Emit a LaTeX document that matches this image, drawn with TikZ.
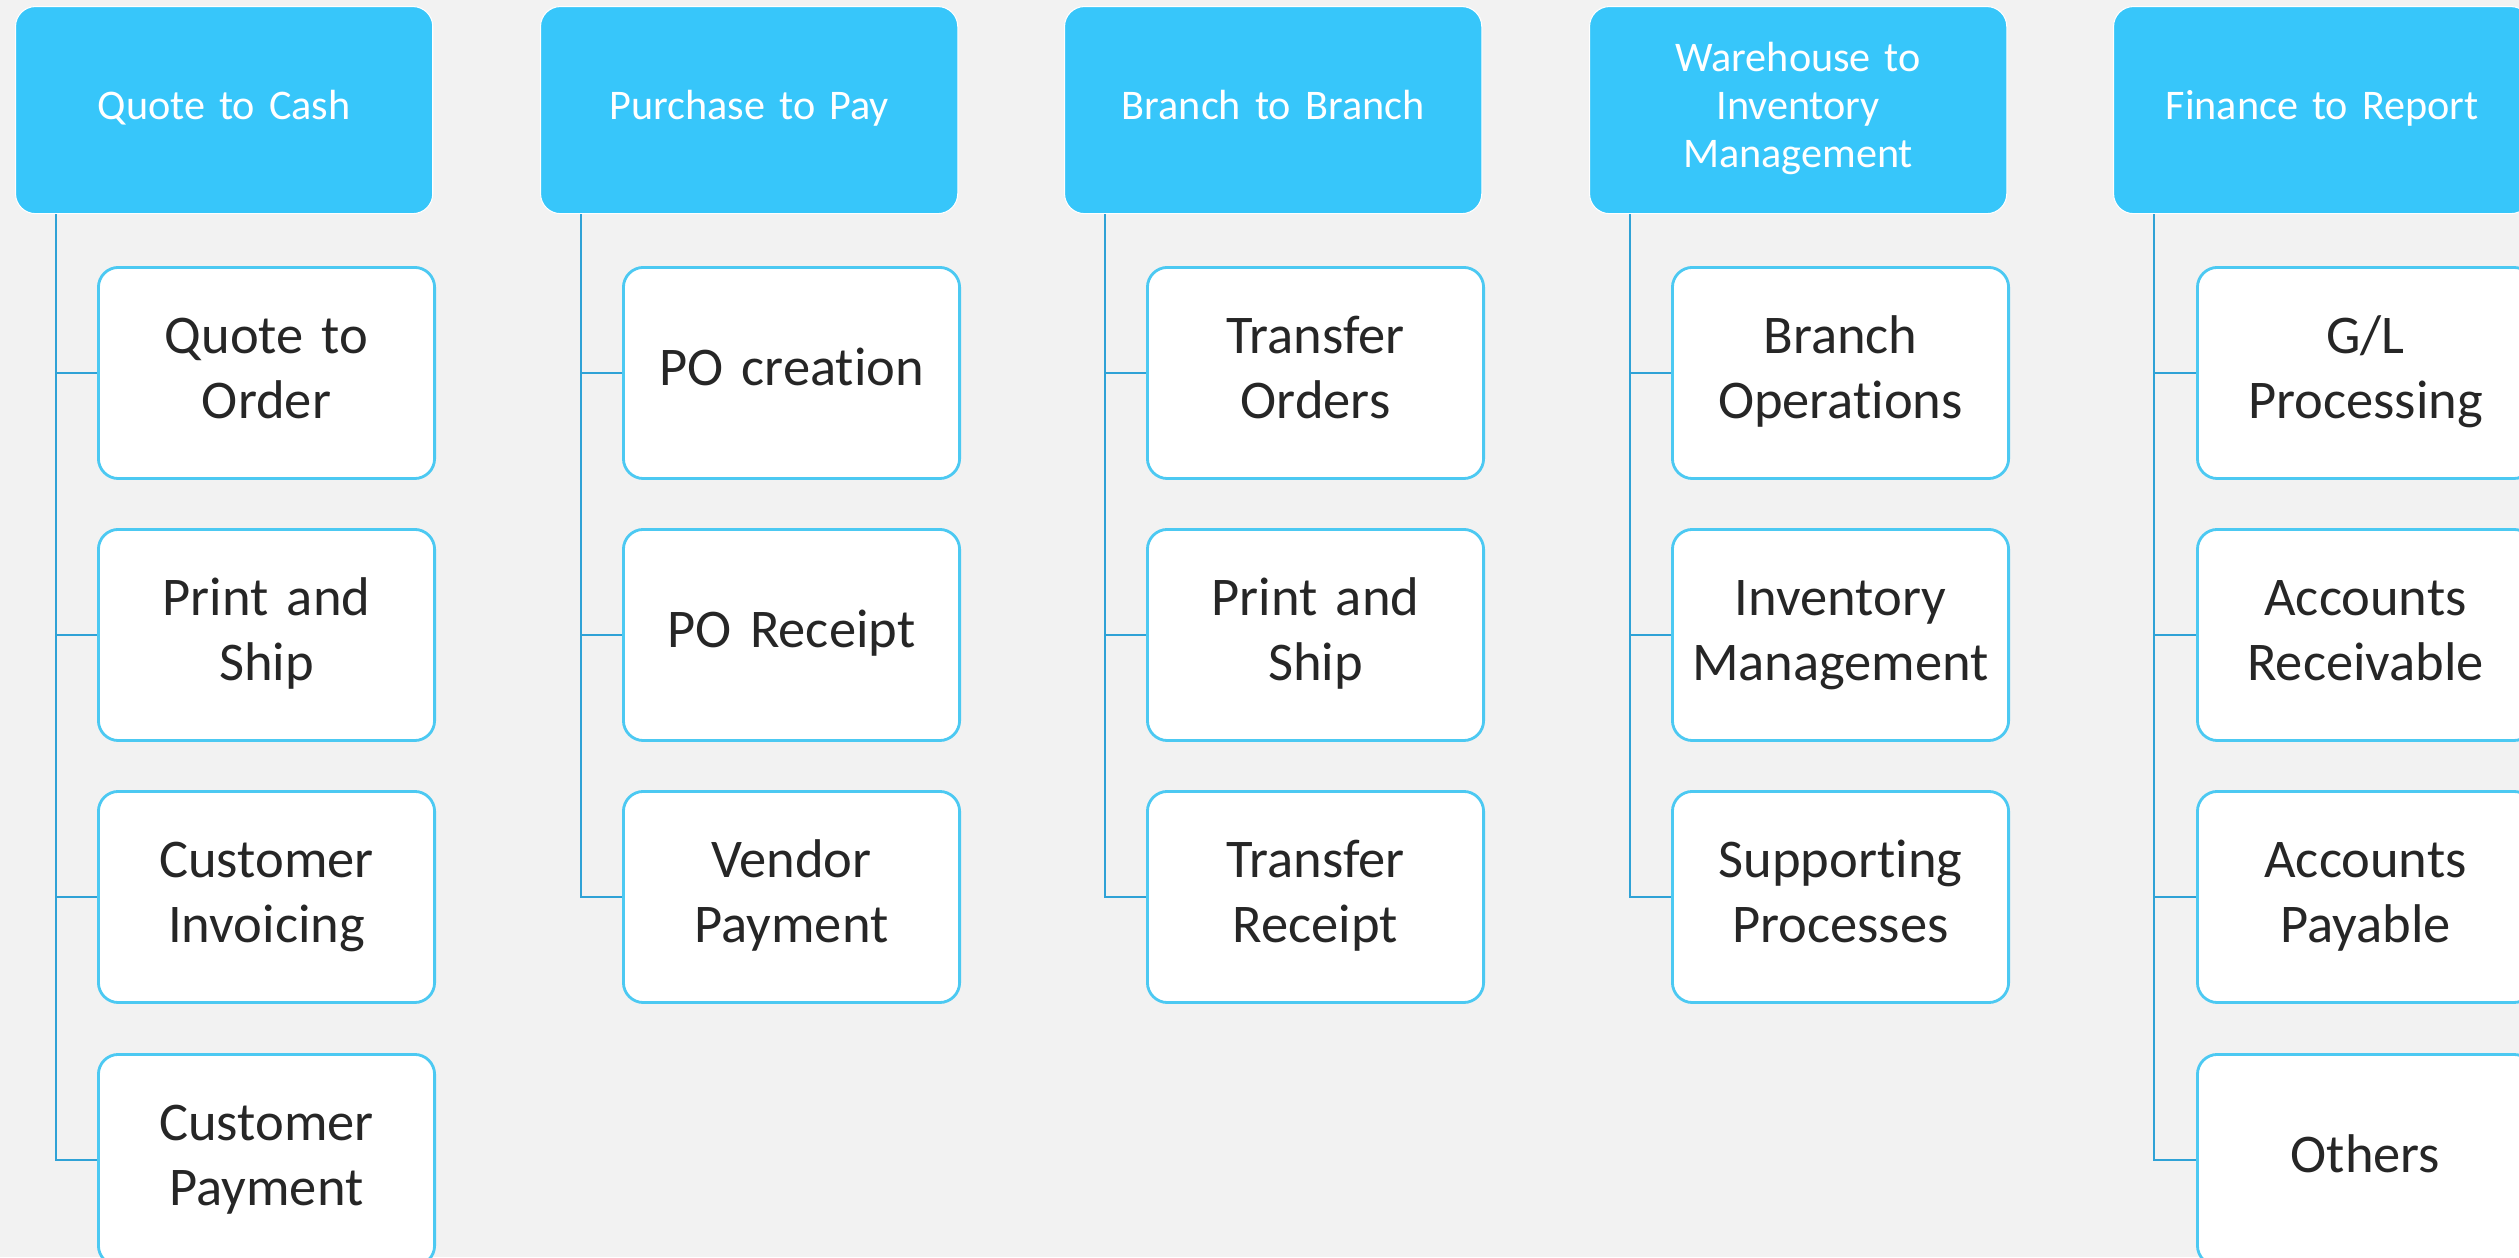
\documentclass[tikz,border=0pt]{standalone}
\usepackage{fontspec}
\setmainfont{Carlito}[Ligatures=NoCommon]
\definecolor{bg}{HTML}{F2F2F2}
\definecolor{hdrfill}{HTML}{37C6FA}
\definecolor{boxline}{HTML}{4CC9F2}
\definecolor{connline}{HTML}{2FA2D6}
\definecolor{txt}{HTML}{262626}
\tikzset{
  hdr/.style={draw=white, line width=0.3pt, fill=hdrfill, rounded corners=0.2cm,
    minimum width=4.17cm, minimum height=2.07cm, text width=3.9cm, align=center,
    anchor=north west, inner sep=0pt, text=white,
    font=\fontsize{12}{13.7}\selectfont,
    execute at begin node=\strut, execute at end node=\strut},
  child/.style={draw=boxline, line width=0.8pt, fill=white, rounded corners=0.2cm,
    minimum width=3.36cm, minimum height=2.11cm, text width=3.2cm, align=center,
    anchor=north west, inner sep=0pt, text=txt,
    font=\fontsize{15.5}{18.3}\selectfont,
    execute at begin node=\strut, execute at end node=\strut},
  conn/.style={draw=connline, line width=0.55pt}
}
\begin{document}
\begin{tikzpicture}[x=0.01cm,y=-0.01cm]
\useasboundingbox (0,0) rectangle (2519,1257);
\clip (0,0) rectangle (2519,1257);
\fill[bg] (0,0) rectangle (2519,1257);
% column 1
\node[hdr] (h1) at (15,6) {Quote to Cash};
\node[child] (c11) at (97,266) {Quote to\\Order};
\node[child] (c12) at (97,528) {Print and\\Ship};
\node[child] (c13) at (97,790) {Customer\\Invoicing};
\node[child] (c14) at (97,1053) {Customer\\Payment};
% column 2
\node[hdr] (h2) at (540,6) {Purchase to Pay};
\node[child] (c21) at (622,266) {PO creation};
\node[child] (c22) at (622,528) {PO Receipt};
\node[child] (c23) at (622,790) {Vendor\\Payment};
% column 3
\node[hdr] (h3) at (1064,6) {Branch to Branch};
\node[child] (c31) at (1146,266) {Transfer\\Orders};
\node[child] (c32) at (1146,528) {Print and\\Ship};
\node[child] (c33) at (1146,790) {Transfer\\Receipt};
% column 4
\node[hdr] (h4) at (1589,6) {Warehouse to\\Inventory\\Management};
\node[child] (c41) at (1671,266) {Branch\\Operations};
\node[child] (c42) at (1671,528) {Inventory\\Management};
\node[child] (c43) at (1671,790) {Supporting\\Processes};
% column 5
\node[hdr] (h5) at (2113,6) {Finance to Report};
\node[child] (c51) at (2196,266) {G/L\\Processing};
\node[child] (c52) at (2196,528) {Accounts\\Receivable};
\node[child] (c53) at (2196,790) {Accounts\\Payable};
\node[child] (c54) at (2196,1053) {Others};
% connectors
\foreach \h/\list in {h1/{c11,c12,c13,c14}, h2/{c21,c22,c23}, h3/{c31,c32,c33}, h4/{c41,c42,c43}, h5/{c51,c52,c53,c54}}{
  \foreach \c in \list {
    \draw[conn] ([xshift=0.41cm]\h.south west) |- (\c.west);
  }
}
\end{tikzpicture}
\end{document}
